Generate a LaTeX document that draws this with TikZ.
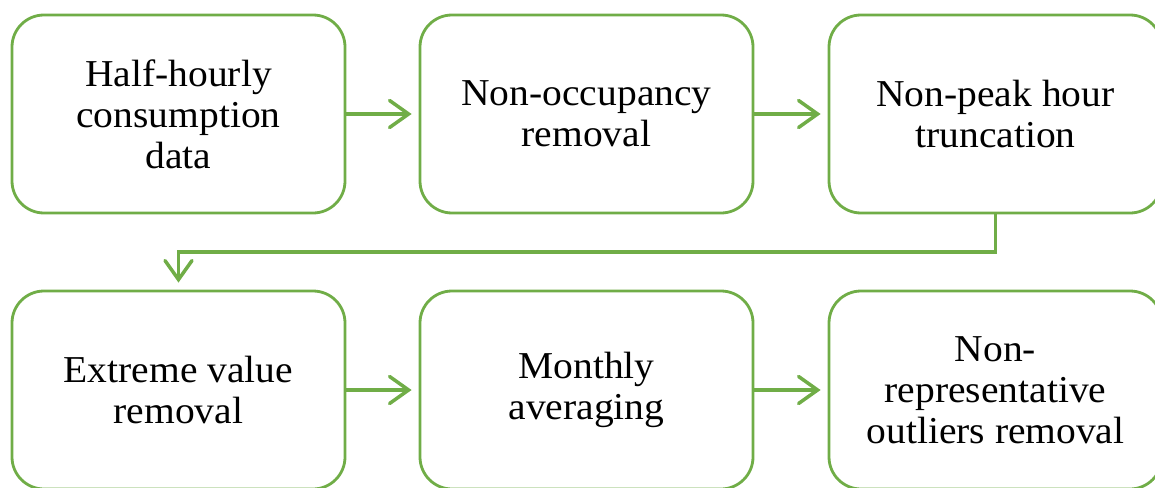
\documentclass[tikz,border=0pt]{standalone}
\usepackage{fontspec}
\setmainfont{Liberation Serif}[FakeStretch=1.04]
\usetikzlibrary{arrows.meta}
\definecolor{offgreen}{HTML}{70AD47}
\tikzset{
  stepbox/.style={draw=offgreen, line width=2.8pt, rounded corners=32pt, fill=white,
    minimum width=333pt, minimum height=198pt, align=center, inner sep=0pt,
    font=\fontsize{38pt}{41pt}\selectfont},
  link/.style={draw=offgreen, line width=3.5pt,
    -{Straight Barb[length=19pt,width=27pt,line width=3.5pt,line cap=round]}, shorten >=7pt}
}
\begin{document}
\begin{tikzpicture}[x=1pt,y=-1pt]
\useasboundingbox (0,0) rectangle (1155,487);
\node[stepbox] (a) at (178.5,114) {Half-hourly\\consumption\\data};
\node[stepbox] (b) at (586.5,114) {Non-occupancy\\removal};
\node[stepbox] (c) at (995.5,114) {Non-peak hour\\truncation};
\node[stepbox] (d) at (178.5,390) {Extreme value\\removal};
\node[stepbox] (e) at (586.5,390) {Monthly\\averaging};
\node[stepbox] (f) at (995.5,390) {Non-\\representative\\outliers removal};
\draw[link] (a.east) -- (b.west);
\draw[link] (b.east) -- (c.west);
\draw[link] (d.east) -- (e.west);
\draw[link] (e.east) -- (f.west);
\coordinate (m) at (0,252);
\draw[link] (c.south) |- (m -| d.north) -- (d.north);
\end{tikzpicture}
\end{document}
